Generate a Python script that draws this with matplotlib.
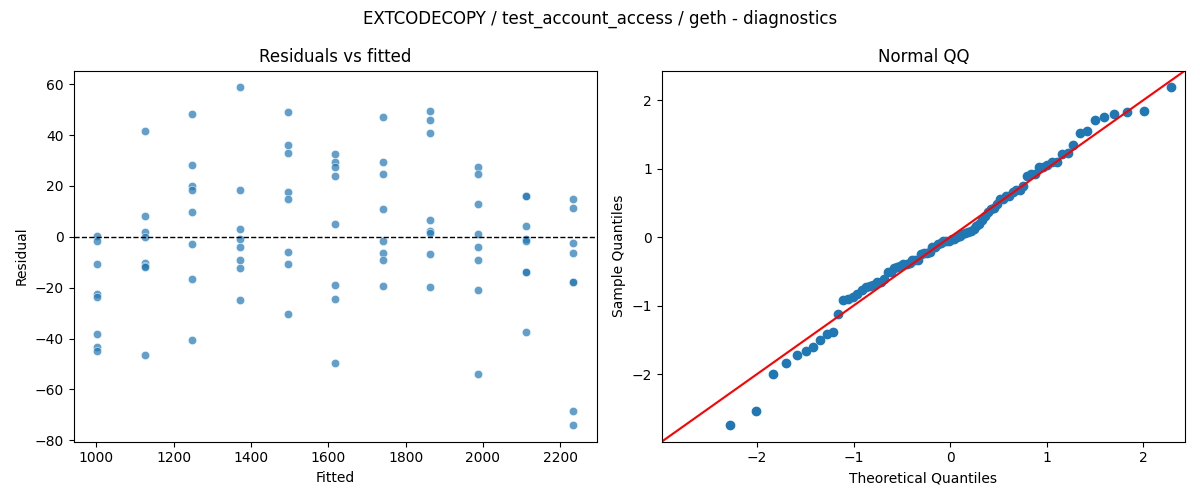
import statistics
import numpy as np
import matplotlib
matplotlib.use("Agg")
from matplotlib import pyplot as plt
import seaborn as sns

# fitted value of each group (x positions in residual plot)
fitted = [1003, 1126, 1249, 1372, 1495, 1618, 1741, 1864, 1987, 2110, 2233]

# residuals, 8 runs per fitted value
residuals = [
    [0.5, -1.8, -10.7, -22.4, -23.8, -38.2, -43.4, -44.7],
    [41.6, 8.1, 2.0, 0.0, -10.3, -11.6, -11.9, -46.3],
    [48.1, 28.1, 20.0, 18.4, 9.7, -2.9, -16.5, -40.4],
    [58.7, 18.3, 3.0, -0.9, -4.1, -9.2, -12.3, -24.8],
    [48.9, 35.9, 32.8, 17.5, 15.0, -6.0, -10.7, -30.3],
    [32.5, 29.3, 27.6, 23.8, 5.1, -19.0, -24.3, -49.5],
    [47.1, 29.3, 24.6, 11.0, -1.7, -6.4, -9.2, -19.3],
    [49.3, 46.1, 41.0, 6.5, 2.1, 1.4, -6.8, -19.7],
    [27.5, 24.6, 12.8, 1.2, -4.1, -9.2, -20.9, -53.9],
    [15.9, 15.9, 4.2, -0.9, -1.8, -13.9, -13.9, -37.4],
    [14.8, 11.2, -2.5, -6.4, -17.9, -17.9, -68.4, -73.9],
]

title = "EXTCODECOPY / test_account_access / geth - diagnostics"

xs = []
ys = []
for f, grp in zip(fitted, residuals):
    for r in grp:
        xs.append(f)
        ys.append(r)
xs = np.array(xs)
ys = np.array(ys)

fig, (ax1, ax2) = plt.subplots(1, 2, figsize=(12, 5), dpi=100)

# residuals vs fitted
sns.scatterplot(x=xs, y=ys, ax=ax1, alpha=0.7)
ax1.axhline(0, color="black", linestyle="--", linewidth=1)
ax1.set_title("Residuals vs fitted")
ax1.set_xlabel("Fitted")
ax1.set_ylabel("Residual")

# normal QQ of standardized residuals
n = len(ys)
sample = np.sort((ys - ys.mean()) / ys.std())
nd = statistics.NormalDist()
theo = np.array([nd.inv_cdf(i / (n + 1)) for i in range(1, n + 1)])
ax2.plot(theo, sample, "o", color="C0", markersize=6)
lims = ax2.get_ylim()
ax2.plot(lims, lims, "r")
ax2.set_xlim(lims)
ax2.set_ylim(lims)
ax2.set_title("Normal QQ")
ax2.set_xlabel("Theoretical Quantiles")
ax2.set_ylabel("Sample Quantiles")

fig.suptitle(title)
fig.tight_layout()
fig.savefig("out.png")
